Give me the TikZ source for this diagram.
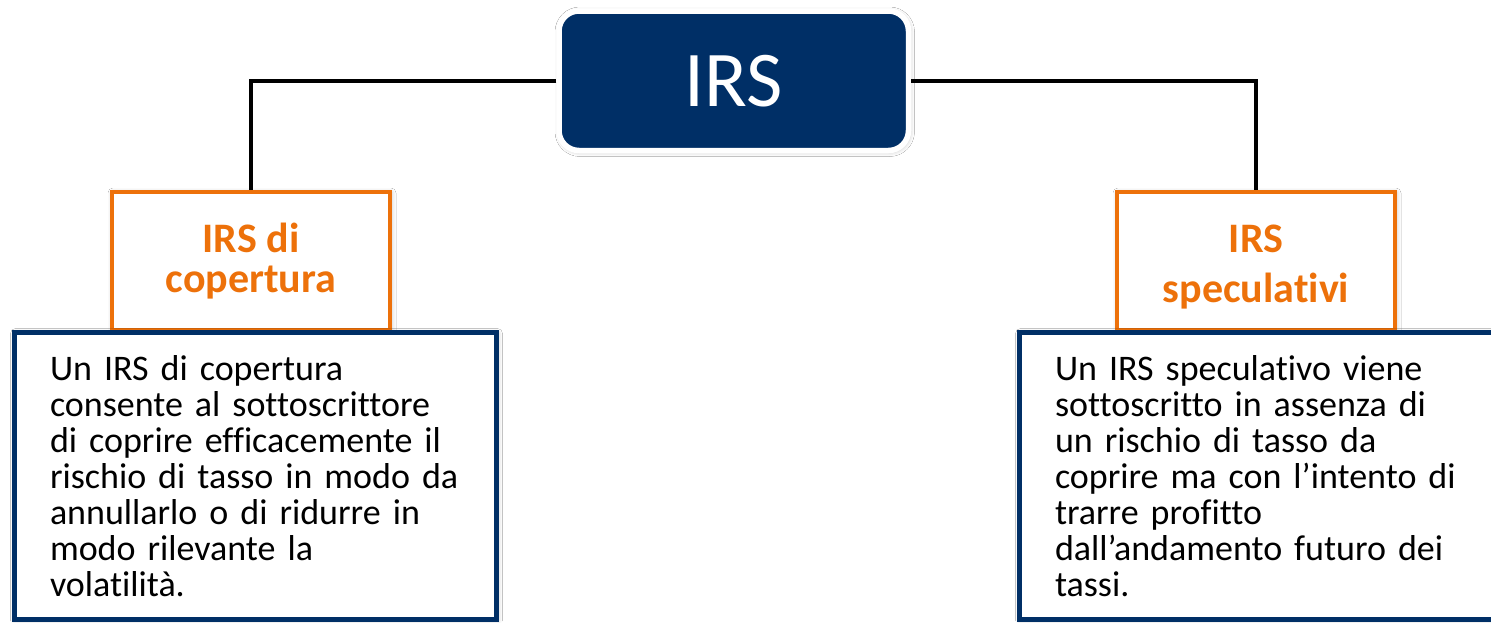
\documentclass[tikz,border=0pt]{standalone}
\usepackage{fontspec}
\setmainfont{Carlito}[Ligatures=NoCommon]
\usetikzlibrary{shadows,shadows.blur}
\definecolor{irsblue}{RGB}{0,47,102}
\definecolor{irsorange}{RGB}{237,113,10}
\tikzset{
  softshadow/.style={blur shadow={shadow xshift=1pt, shadow yshift=-1pt, shadow blur radius=5pt, shadow opacity=30}},
  rootbox/.style={fill=irsblue, draw=white, line width=5.5pt, rounded corners=20pt,
    minimum width=349.5pt, minimum height=139.5pt, inner sep=0pt, text=white,
    font=\fontsize{79}{90}\selectfont, softshadow},
  catbox/.style={draw=irsorange, fill=white, line width=4pt, minimum width=278pt,
    minimum height=138pt, text=irsorange, font=\fontsize{42}{40}\selectfont\bfseries,
    align=center, inner sep=0pt, softshadow},
  descbox/.style={draw=irsblue, fill=white, line width=5pt, minimum width=482pt,
    minimum height=286.5pt, text width=411pt, inner xsep=35.5pt, inner ysep=0pt,
    align=left, font=\fontsize{36}{36}\selectfont, text=black, softshadow},
  link/.style={line width=4pt, line join=miter}
}
\begin{document}
\begin{tikzpicture}[x=1pt,y=-1pt]
\useasboundingbox[fill=white] (0,0) rectangle (1491,622);
\node[rootbox] (root) at (733.75,80.75) {IRS};
\node[catbox, text height=72pt, text depth=10pt] (hedge) at (251,261) {IRS di\\copertura};
\node[catbox, text height=92pt, text depth=10pt] (spec) at (1256,261) {IRS\\[10pt]speculativi};
\draw[link] (root.west) -| (hedge.north);
\draw[link] (root.east) -| (spec.north);
\node[descbox] (hedgetext) at (255.5,475.75) {Un IRS di copertura\\consente al sottoscrittore\\di coprire efficacemente il\\rischio di tasso in modo da\\annullarlo o di ridurre in\\modo rilevante la\\volatilità.};
\node[descbox] (spectext) at (1260.5,475.75) {Un IRS speculativo viene\\sottoscritto in assenza di\\un rischio di tasso da\\coprire ma con l’intento di\\trarre profitto\\dall’andamento futuro dei\\tassi.};
\end{tikzpicture}
\end{document}
